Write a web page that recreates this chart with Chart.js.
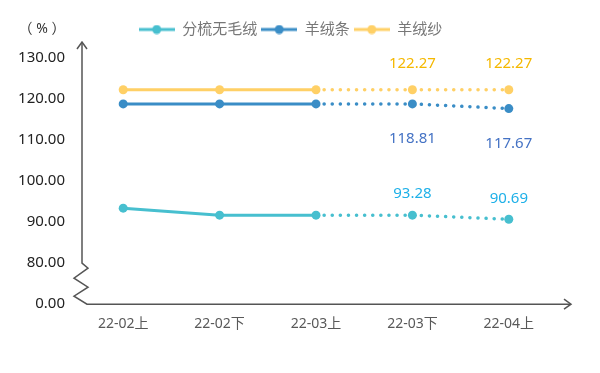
<!DOCTYPE html>
<html>
<head>
<meta charset="utf-8">
<script src="https://cdn.jsdelivr.net/npm/chart.js@4.4.0/dist/chart.umd.min.js"></script>
<style>
  html, body { margin: 0; padding: 0; background: #fff; }
  #wrap { width: 600px; height: 373px; }
</style>
</head>
<body>
<div id="wrap"><canvas id="lineChart" width="600" height="373"></canvas></div>
<script>
// categories and values
const categories = ["22-02上", "22-02下", "22-03上", "22-03下", "22-04上"];
const fenShu = [93.4, 91.7, 91.7, 91.7, 90.69];
const yangTiao = [118.81, 118.81, 118.81, 118.81, 117.67];
const yangSha = [122.27, 122.27, 122.27, 122.27, 122.27];
// value labels shown on the forecast points
const fenShuText = ["", "", "", "93.28", "90.69"];
const yangTiaoText = ["", "", "", "118.81", "117.67"];
const yangShaText = ["", "", "", "122.27", "122.27"];
// axis: the bottom tick stands for 0.00 after the break
const yTicks = [70, 80, 90, 100, 110, 120, 130];
const breakValue = 70;

const FONT = "'Noto Sans', 'Noto Sans CJK SC', sans-serif";

function legendIcon(color) {
  var c = document.createElement("canvas");
  c.width = 36; c.height = 10;
  var g = c.getContext("2d");
  g.strokeStyle = color; g.lineWidth = 3;
  g.beginPath(); g.moveTo(0, 5); g.lineTo(36, 5); g.stroke();
  g.fillStyle = color;
  g.beginPath(); g.arc(18, 5, 4.5, 0, Math.PI * 2); g.fill();
  return c;
}

function makeSet(label, data, color, texts, textColor, offset) {
  return {
    label: label,
    data: data,
    borderColor: color,
    backgroundColor: color,
    borderWidth: 3,
    pointRadius: 4.5,
    pointHoverRadius: 5,
    pointBorderWidth: 0,
    tension: 0,
    borderCapStyle: "round",
    segment: {
      borderDash: function (ctx) { return ctx.p0DataIndex >= 2 ? [0.1, 8] : undefined; },
      borderWidth: function (ctx) { return ctx.p0DataIndex >= 2 ? 3.5 : 3; }
    },
    texts: texts,
    textColor: textColor,
    textOffset: offset,
    icon: legendIcon(color)
  };
}

// extra room under the legend, and nudge it a bit to the right
const legendGap = {
  id: "legendGap",
  beforeLayout: function (chart) {
    var lg = chart.legend;
    if (lg && !lg._gap) {
      var fit = lg.fit;
      lg.fit = function () { fit.call(this); this.height += 11; };
      lg._gap = true;
    }
  },
  afterLayout: function (chart) {
    var lg = chart.legend;
    if (lg) { lg.left += 12; lg.right += 12; }
  }
};

// axis arrows, break mark, unit and value labels
const decorPlugin = {
  id: "decor",
  afterDatasetsDraw: function (chart) {
    var ctx = chart.ctx;
    var area = chart.chartArea;
    var y = chart.scales.y;
    var ax = area.left + 7;
    var y80 = y.getPixelForValue(80);
    var y0 = y.getPixelForValue(breakValue);
    ctx.save();
    ctx.strokeStyle = "#555";
    ctx.lineWidth = 1.5;
    ctx.lineJoin = "miter";
    ctx.beginPath();
    ctx.moveTo(ax, 43);
    ctx.lineTo(ax, y80);
    ctx.lineTo(ax + 6, y80 + 5);
    ctx.lineTo(ax - 8, y80 + 15);
    ctx.lineTo(ax + 6, y80 + 24);
    ctx.lineTo(ax - 8, y80 + 33);
    ctx.lineTo(ax + 5, y0);
    ctx.lineTo(570, y0);
    ctx.stroke();
    // arrow heads
    ctx.beginPath();
    ctx.moveTo(ax - 5, 49); ctx.lineTo(ax, 42); ctx.lineTo(ax + 5, 49);
    ctx.moveTo(564, y0 - 5); ctx.lineTo(571, y0); ctx.lineTo(564, y0 + 5);
    ctx.stroke();
    // unit
    ctx.fillStyle = "#333";
    ctx.font = "14px " + FONT;
    ctx.textAlign = "center";
    ctx.textBaseline = "middle";
    ctx.fillText("（ % ）", 42, 29);
    // value labels
    ctx.font = "15px " + FONT;
    chart.data.datasets.forEach(function (ds, i) {
      var meta = chart.getDatasetMeta(i);
      meta.data.forEach(function (pt, j) {
        if (!ds.texts[j]) return;
        ctx.fillStyle = ds.textColor;
        ctx.fillText(ds.texts[j], pt.x, pt.y + ds.textOffset);
      });
    });
    ctx.restore();
  }
};

const whiteBg = {
  id: "whiteBg",
  beforeDraw: function (chart) {
    var ctx = chart.ctx;
    ctx.save();
    ctx.fillStyle = "#fff";
    ctx.fillRect(0, 0, chart.width, chart.height);
    ctx.restore();
  }
};

new Chart(document.getElementById("lineChart").getContext("2d"), {
  type: "line",
  data: {
    labels: categories,
    datasets: [
      makeSet("分梳无毛绒", fenShu, "#47BFCF", fenShuText, "#1EB0E8", -21),
      makeSet("羊绒条", yangTiao, "#3A8DC6", yangTiaoText, "#4472C4", 35),
      makeSet("羊绒纱", yangSha, "#FFD066", yangShaText, "#F5B800", -26)
    ]
  },
  options: {
    responsive: false,
    animation: false,
    devicePixelRatio: 1,
    layout: { padding: { left: 0, right: 43, top: 18, bottom: 30 } },
    plugins: {
      tooltip: { enabled: false },
      legend: {
        position: "top",
        labels: {
          color: "#777",
          font: { size: 15, family: FONT },
          usePointStyle: true,
          pointStyleWidth: 36,
          boxHeight: 10,
          padding: 4,
          generateLabels: function (chart) {
            return chart.data.datasets.map(function (ds, i) {
              return {
                text: ds.label,
                pointStyle: ds.icon,
                fillStyle: ds.borderColor,
                strokeStyle: ds.borderColor,
                lineWidth: 0,
                fontColor: "#777",
                hidden: false,
                datasetIndex: i
              };
            });
          }
        }
      }
    },
    scales: {
      x: {
        offset: true,
        grid: { display: false, drawTicks: false },
        border: { display: false },
        ticks: { color: "#595959", font: { size: 14, family: FONT }, padding: 11 }
      },
      y: {
        min: 70,
        max: 130,
        afterBuildTicks: function (scale) {
          scale.ticks = yTicks.map(function (v) { return { value: v }; });
        },
        afterFit: function (scale) { scale.width = 75; },
        grid: { display: false, drawTicks: false },
        border: { display: false },
        ticks: {
          color: "#222",
          font: { size: 15, family: FONT },
          padding: 10,
          callback: function (v) { return v === breakValue ? "0.00" : Number(v).toFixed(2); }
        }
      }
    }
  },
  plugins: [whiteBg, legendGap, decorPlugin]
});
</script>
</body>
</html>
